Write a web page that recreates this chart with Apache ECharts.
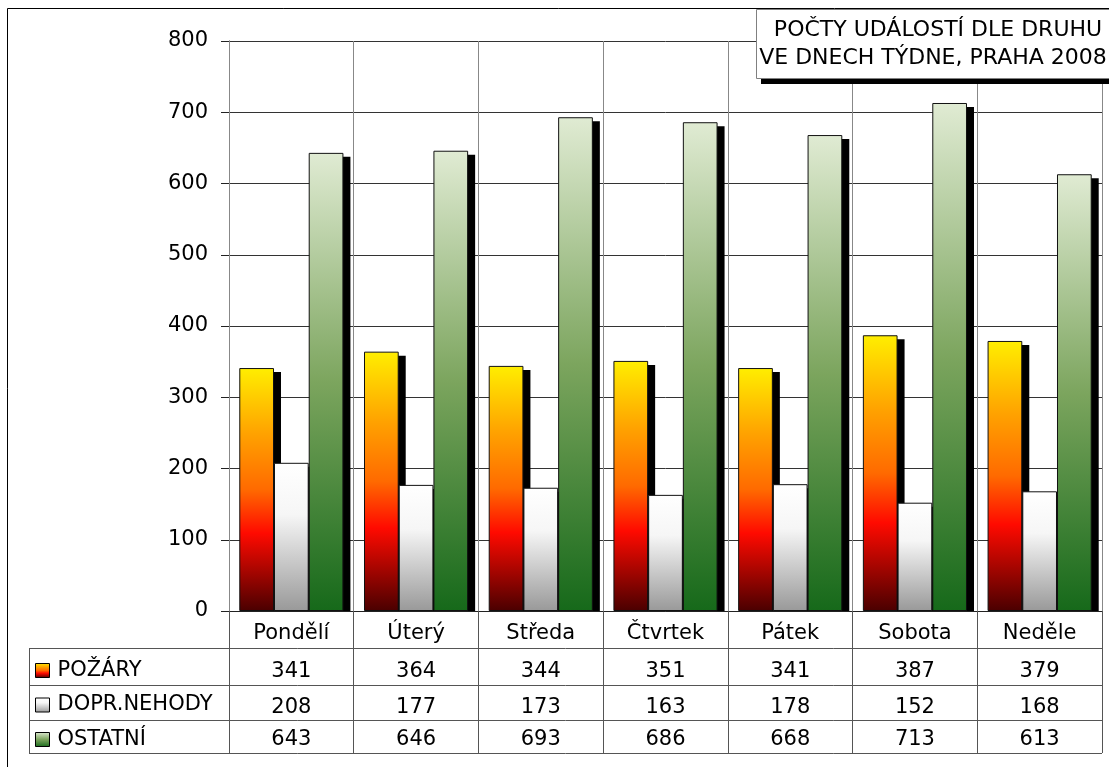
<!DOCTYPE html>
<html>
<head>
<meta charset="utf-8">
<script src="https://cdn.jsdelivr.net/npm/echarts@6/dist/echarts.min.js"></script>
<style>
html,body{margin:0;padding:0;background:#fff;}
#c{width:1109px;height:767px;}
</style>
</head>
<body>
<div id="c"></div>
<script>
const categories = ['Pondělí', 'Úterý', 'Středa', 'Čtvrtek', 'Pátek', 'Sobota', 'Neděle'];
const seriesNames = ['POŽÁRY', 'DOPR.NEHODY', 'OSTATNÍ'];
const pozary = [341, 364, 344, 351, 341, 387, 379];
const nehody = [208, 177, 173, 163, 178, 152, 168];
const ostatni = [643, 646, 693, 686, 668, 713, 613];
const yTicks = [0, 100, 200, 300, 400, 500, 600, 700, 800];
const titleLines = ['POČTY UDÁLOSTÍ DLE DRUHU', 'VE DNECH TÝDNE, PRAHA 2008'];

const FONT = 'DejaVu Sans';
const FS = 21;
const chart = echarts.init(document.getElementById('c'), null, {renderer: 'canvas'});

function grad(stops) {
  return new echarts.graphic.LinearGradient(0, 0, 0, 1, stops.map(s => ({offset: s[0], color: s[1]})));
}
const fills = [
  grad([[0, '#ffee00'], [0.27, '#ffa200'], [0.5, '#ff6a00'], [0.68, '#ff0a00'], [1, '#4a0000']]),
  grad([[0, '#ffffff'], [0.35, '#f6f6f6'], [1, '#999999']]),
  grad([[0, '#e0ebd3'], [0.5, '#7ca55e'], [1, '#16691a']])
];
const seriesData = [pozary, nehody, ostatni];
const CAT_GAP = 0.165;

const G = {left: 229, right: 7, top: 41, bottom: 156};
const plotRight = 1109 - G.right;
const rowLines = [648, 685, 720, 753];

function tableAxis(values, offset, margin) {
  return {
    type: 'category', data: categories, gridIndex: 0, position: 'bottom', offset: offset,
    axisLine: {show: false}, axisTick: {show: false}, splitLine: {show: false},
    axisLabel: {margin: margin, fontFamily: FONT, fontSize: FS, color: '#000', interval: 0,
      formatter: (v, i) => String(values[i])}
  };
}

const graphics = [
  {type: 'rect', shape: {x: 7.5, y: 8.5, width: 1130, height: 800}, style: {fill: null, stroke: '#000', lineWidth: 1}, z: 0, silent: true},
  {type: 'line', shape: {x1: 29.5, y1: rowLines[0], x2: 29.5, y2: rowLines[3]}, style: {stroke: '#555', lineWidth: 1}, z: 60, silent: true}
];
rowLines.forEach(y => graphics.push({type: 'line', shape: {x1: 29, y1: y + 0.5, x2: plotRight, y2: y + 0.5}, style: {stroke: '#555', lineWidth: 1}, z: 60, silent: true}));
// title box with hard shadow
graphics.push({type: 'rect', shape: {x: 761, y: 15, width: 380, height: 69}, style: {fill: '#000'}, z: 95, silent: true});
graphics.push({type: 'rect', shape: {x: 756.5, y: 9.5, width: 380, height: 69}, style: {fill: '#fff', stroke: '#808080', lineWidth: 1}, z: 96, silent: true});
graphics.push({type: 'text', x: 938, y: 30, style: {text: titleLines[0], fontFamily: FONT, fontSize: 22, fill: '#000', align: 'center', verticalAlign: 'middle'}, z: 97, silent: true});
graphics.push({type: 'text', x: 933, y: 58, style: {text: titleLines[1], fontFamily: FONT, fontSize: 22, fill: '#000', align: 'center', verticalAlign: 'middle'}, z: 97, silent: true});

// shadow rows: one item per category, values of all three series
const shadowRows = categories.map((c, i) => [i, pozary[i], nehody[i], ostatni[i]]);

function renderShadow(params, api) {
  const i = api.value(0);
  const catW = api.size([1, 0])[0];
  const bw = catW * (1 - CAT_GAP) / 3;
  const center = api.coord([i, 0]);
  const zeroY = center[1];
  const children = [];
  for (let k = 0; k < 3; k++) {
    const top = api.coord([i, api.value(k + 1)])[1];
    const left = center[0] - 1.5 * bw + k * bw;
    children.push({type: 'rect', shape: {x: left + 7, y: top + 4, width: bw, height: zeroY - top - 4},
      style: {fill: '#000'}});
  }
  return {type: 'group', children: children};
}

const option = {
  animation: false,
  backgroundColor: '#fff',
  textStyle: {fontFamily: FONT},
  grid: {left: G.left, right: G.right, top: G.top, bottom: G.bottom, containLabel: false},
  legend: {
    orient: 'vertical', left: 35, top: 660, padding: 0, itemGap: 13.5, itemWidth: 14, itemHeight: 14,
    icon: 'rect', data: seriesNames, selectedMode: false,
    itemStyle: {borderColor: '#000', borderWidth: 1},
    textStyle: {fontFamily: FONT, fontSize: FS, color: '#000', padding: [0, 0, 0, 3]}
  },
  xAxis: [
    {
      type: 'category', data: categories, gridIndex: 0, position: 'bottom', z: 80,
      axisLine: {show: true, lineStyle: {color: '#222', width: 1}},
      axisTick: {show: true, length: 142, lineStyle: {color: '#555', width: 1}},
      splitLine: {show: true, lineStyle: {color: '#888', width: 1}},
      axisLabel: {margin: 12, fontFamily: FONT, fontSize: FS, color: '#000', interval: 0}
    },
    tableAxis(pozary, 37, 13),
    tableAxis(nehody, 74, 12),
    tableAxis(ostatni, 109, 9)
  ],
  yAxis: {
    type: 'value', min: 0, max: 800, interval: 100,
    axisLine: {show: true, lineStyle: {color: '#222', width: 1}},
    axisTick: {show: true, length: 8, lineStyle: {color: '#222'}},
    splitLine: {show: true, lineStyle: {color: '#333', width: 1}},
    axisLabel: {margin: 21, fontFamily: FONT, fontSize: FS, color: '#000',
      formatter: v => yTicks.indexOf(v) >= 0 ? String(v) : ''}
  },
  series: [{
    name: 'shadow', type: 'custom', data: shadowRows, renderItem: renderShadow, z: 1,
    encode: {x: 0, y: [1, 2, 3]}, silent: true, clip: true
  }].concat(seriesNames.map((n, k) => ({
    name: n, type: 'bar', data: seriesData[k], barGap: '0%', barCategoryGap: (CAT_GAP * 100) + '%',
    itemStyle: {color: fills[k], borderColor: '#111', borderWidth: 1},
    emphasis: {disabled: true}, z: 2
  }))),
  graphic: graphics
};
chart.setOption(option);
</script>
</body>
</html>
